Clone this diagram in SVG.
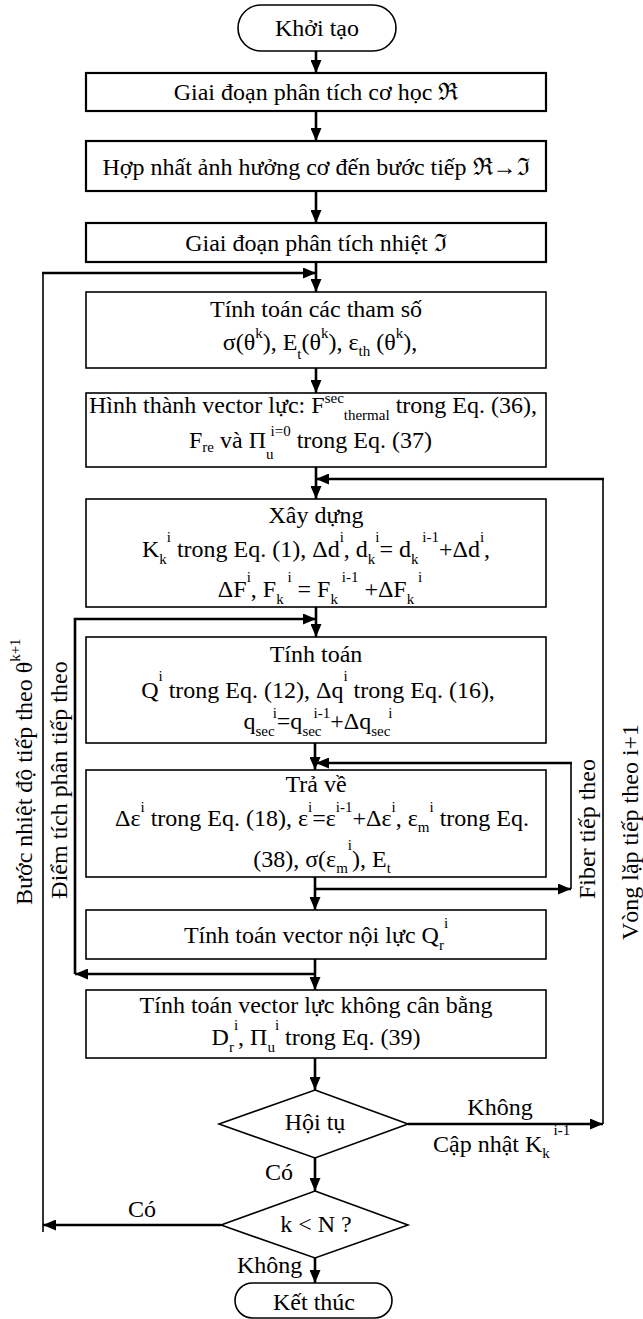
<svg xmlns="http://www.w3.org/2000/svg" width="643" height="1319" viewBox="0 0 643 1319">
<style>
.t{font-family:"Liberation Serif","Times New Roman","DejaVu Serif",serif;font-size:24px;fill:#000}
.s{font-size:15px}
.box{fill:#fff;stroke:#000;stroke-width:1.6}
.boxb{fill:#fff;stroke:#000;stroke-width:2.2}
.c{fill:none;stroke:#000;stroke-width:2.6}
.ct{fill:none;stroke:#000;stroke-width:1.6}
</style>
<defs>
<marker id="ah" markerUnits="userSpaceOnUse" markerWidth="13" markerHeight="11" refX="13" refY="5.5" orient="auto">
<path d="M0,0 L13,5.5 L0,11 z" fill="#000"/>
</marker>
</defs>
<rect width="643" height="1319" fill="#fff"/>

<g id="connectors">
<path class="c" d="M316,51 V73" marker-end="url(#ah)"/>
<path class="c" d="M316,111 V141" marker-end="url(#ah)"/>
<path class="c" d="M316,191 V223" marker-end="url(#ah)"/>
<path class="c" d="M316,262 V292" marker-end="url(#ah)"/>
<path class="c" d="M316,368 V393" marker-end="url(#ah)"/>
<path class="c" d="M316,467 V499" marker-end="url(#ah)"/>
<path class="c" d="M316,607 V637" marker-end="url(#ah)"/>
<path class="c" d="M315,743 V770" marker-end="url(#ah)"/>
<path class="c" d="M315,877 V910" marker-end="url(#ah)"/>
<path class="c" d="M315,959 V990" marker-end="url(#ah)"/>
<path class="c" d="M315,1058 V1090" marker-end="url(#ah)"/>
<path class="c" d="M315,1158 V1191" marker-end="url(#ah)"/>
<path class="c" d="M315,1258 V1283" marker-end="url(#ah)"/>
<!-- outer loop: k < N -> next temperature step -->
<path class="c" d="M221,1225 H43" marker-end="url(#ah)"/>
<path class="ct" d="M43,1232 V273"/>
<path class="c" d="M42,273 H316" marker-end="url(#ah)"/>
<!-- right loop: not converged -> next iteration -->
<path class="c" d="M408,1124 H603" marker-end="url(#ah)"/>
<path class="ct" d="M603,1124 V479"/>
<path class="c" d="M604,479 H316" marker-end="url(#ah)"/>
<!-- inner loop: next integration point -->
<path class="c" d="M315,974 H75" marker-end="url(#ah)"/>
<path class="c" d="M75,974 V619 H316" marker-end="url(#ah)"/>
<!-- fiber loop -->
<path class="c" d="M315,889 H571" marker-end="url(#ah)"/>
<path class="ct" d="M571,889 V763"/>
<path class="c" d="M572,763 H316" marker-end="url(#ah)"/>
</g>

<g id="start">
<rect class="box" x="238" y="5" width="158" height="46" rx="23"/>
<text class="t" x="317" y="36" text-anchor="middle">Khởi tạo</text>
</g>

<g id="mech">
<rect class="boxb" x="86" y="73" width="460" height="38"/>
<text class="t" x="316" y="100" text-anchor="middle">Giai đoạn phân tích cơ học ℜ</text>
</g>

<g id="merge">
<rect class="boxb" x="86" y="141" width="460" height="50"/>
<text class="t" x="316" y="175" text-anchor="middle">Hợp nhất ảnh hưởng cơ đến bước tiếp ℜ→ℑ</text>
</g>

<g id="thermal">
<rect class="boxb" x="86" y="223" width="460" height="39"/>
<text class="t" x="316" y="251" text-anchor="middle">Giai đoạn phân tích nhiệt ℑ</text>
</g>

<g id="params">
<rect class="box" x="86" y="292" width="460" height="76"/>
<text class="t" x="316" y="317" text-anchor="middle">Tính toán các tham số</text>
<text class="t" x="320" y="350" text-anchor="middle">σ(θ<tspan class="s" dy="-12">k</tspan><tspan dy="12">), E</tspan><tspan class="s" dy="9">t</tspan><tspan dy="-9">(θ</tspan><tspan class="s" dy="-12">k</tspan><tspan dy="12">), ε</tspan><tspan class="s" dy="6">th</tspan><tspan dy="-6"> (θ</tspan><tspan class="s" dy="-12">k</tspan><tspan dy="12">),</tspan></text>
</g>

<g id="forcevec">
<rect class="box" x="86" y="393" width="460" height="74"/>
<text class="t" x="89" y="413">Hình thành vector lực: F<tspan class="s" dy="-10">sec</tspan><tspan class="s" dy="17">thermal</tspan><tspan dy="-7"> trong Eq. (36),</tspan></text>
<text class="t" x="189" y="448">F<tspan class="s" dy="4">re</tspan><tspan dy="-4"> và Π</tspan><tspan class="s" dy="11">u</tspan><tspan class="s" dy="-23" dx="-3">i=0</tspan><tspan dy="12"> trong  Eq. (37)</tspan></text>
</g>

<g id="build">
<rect class="box" x="86" y="499" width="460" height="108"/>
<text class="t" x="316" y="523" text-anchor="middle">Xây dựng</text>
<text class="t" x="316" y="557" text-anchor="middle">K<tspan class="s" dy="7">k</tspan><tspan class="s" dy="-22">i</tspan><tspan dy="15"> trong Eq. (1), Δd</tspan><tspan class="s" dy="-15">i</tspan><tspan dy="15">, d</tspan><tspan class="s" dy="7">k</tspan><tspan class="s" dy="-22">i</tspan><tspan dy="15">= d</tspan><tspan class="s" dy="7">k</tspan><tspan class="s" dy="-22"> i-1</tspan><tspan dy="15">+Δd</tspan><tspan class="s" dy="-15">i</tspan><tspan dy="15">,</tspan></text>
<text class="t" x="320" y="597" text-anchor="middle">ΔF<tspan class="s" dy="-15">i</tspan><tspan dy="15">, F</tspan><tspan class="s" dy="7">k</tspan><tspan class="s" dy="-22"> i</tspan><tspan dy="15"> = F</tspan><tspan class="s" dy="7">k</tspan><tspan class="s" dy="-22"> i-1</tspan><tspan dy="15"> +ΔF</tspan><tspan class="s" dy="7">k</tspan><tspan class="s" dy="-22"> i</tspan></text>
</g>

<g id="compute">
<rect class="box" x="86" y="637" width="460" height="106"/>
<text class="t" x="316" y="662" text-anchor="middle">Tính toán</text>
<text class="t" x="318" y="698" text-anchor="middle">Q<tspan class="s" dy="-17">i</tspan><tspan dy="17"> trong Eq. (12), Δq</tspan><tspan class="s" dy="-17">i</tspan><tspan dy="17"> trong Eq. (16),</tspan></text>
<text class="t" x="318" y="729" text-anchor="middle">q<tspan class="s" dy="7">sec</tspan><tspan class="s" dy="-18" dx="-2">i</tspan><tspan dy="11">=q</tspan><tspan class="s" dy="7">sec</tspan><tspan class="s" dy="-18" dx="-8">i-1</tspan><tspan dy="11">+Δq</tspan><tspan class="s" dy="7">sec</tspan><tspan class="s" dy="-18" dx="-2">i</tspan></text>
</g>

<g id="return">
<rect class="box" x="86" y="770" width="460" height="107"/>
<text class="t" x="316" y="792" text-anchor="middle">Trả về</text>
<text class="t" x="322" y="826" text-anchor="middle">Δε<tspan class="s" dy="-14">i</tspan><tspan dy="14"> trong Eq. (18), ε</tspan><tspan class="s" dy="-14">i</tspan><tspan dy="14">=ε</tspan><tspan class="s" dy="-14">i-1</tspan><tspan dy="14">+Δε</tspan><tspan class="s" dy="-14">i</tspan><tspan dy="14">, ε</tspan><tspan class="s" dy="6">m</tspan><tspan class="s" dy="-20">i</tspan><tspan dy="14"> trong Eq.</tspan></text>
<text class="t" x="322" y="867" text-anchor="middle">(38), σ(ε<tspan class="s" dy="6">m</tspan><tspan class="s" dy="-23">i</tspan><tspan dy="17">), E</tspan><tspan class="s" dy="6">t</tspan></text>
</g>

<g id="internal">
<rect class="box" x="86" y="910" width="460" height="49"/>
<text class="t" x="316" y="943" text-anchor="middle">Tính toán vector nội lực Q<tspan class="s" dy="7">r</tspan><tspan class="s" dy="-22">i</tspan></text>
</g>

<g id="unbalanced">
<rect class="box" x="86" y="990" width="460" height="68"/>
<text class="t" x="316" y="1013" text-anchor="middle">Tính toán vector lực không cân bằng</text>
<text class="t" x="316" y="1045" text-anchor="middle">D<tspan class="s" dy="7">r</tspan><tspan class="s" dy="-22">i</tspan><tspan dy="15">, Π</tspan><tspan class="s" dy="7">u</tspan><tspan class="s" dy="-22">i</tspan><tspan dy="15"> trong Eq. (39)</tspan></text>
</g>

<g id="converge">
<polygon class="box" points="315,1090 408,1124 315,1158 219,1124"/>
<text class="t" x="315" y="1130" text-anchor="middle">Hội tụ</text>
</g>

<g id="kcheck">
<polygon class="box" points="315,1191 408,1225 315,1258 221,1225"/>
<text class="t" x="316" y="1232" text-anchor="middle">k &lt; N ?</text>
</g>

<g id="end">
<rect class="box" x="235" y="1283" width="157" height="35" rx="17.5"/>
<text class="t" x="314" y="1310" text-anchor="middle">Kết thúc</text>
</g>

<g id="labels">
<text class="t" x="500" y="1115" text-anchor="middle">Không</text>
<text class="t" x="433" y="1152">Cập nhật K<tspan class="s" dy="6">k</tspan><tspan class="s" dy="-23"> i-1</tspan></text>
<text class="t" x="265" y="1180">Có</text>
<text class="t" x="128" y="1217">Có</text>
<text class="t" x="237" y="1273">Không</text>
<text class="t" transform="translate(32,905) rotate(-90)">Bước nhiệt độ tiếp theo θ<tspan class="s" dy="-12">k+1</tspan></text>
<text class="t" transform="translate(67,780) rotate(-90)" text-anchor="middle">Điểm tích phân tiếp theo</text>
<text class="t" transform="translate(595,829) rotate(-90)" text-anchor="middle">Fiber tiếp theo</text>
<text class="t" transform="translate(638,832) rotate(-90)" text-anchor="middle">Vòng lặp tiếp theo i+1</text>
</g>
</svg>
